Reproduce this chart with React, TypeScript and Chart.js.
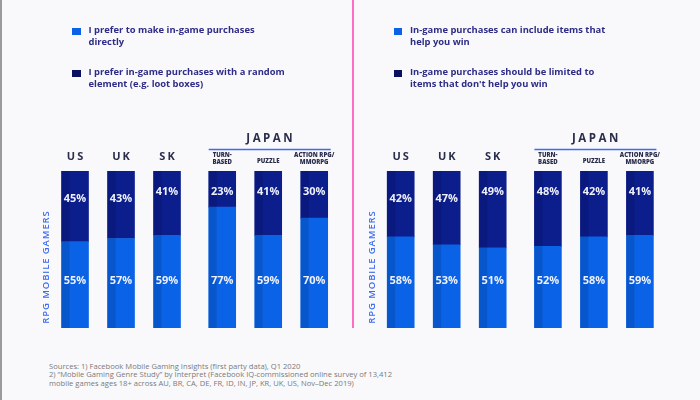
import React, { useEffect, useRef } from "react";
import { Chart, registerables } from "chart.js";

Chart.register(...registerables);

// ---- data ----
const countries = ["US", "UK", "SK"];
const japanGenres = [["TURN-", "BASED"], ["PUZZLE"], ["ACTION RPG/", "MMORPG"]];
const categories = ["US", "UK", "SK", "TURN-BASED", "PUZZLE", "ACTION RPG/MMORPG"];

const leftDirect = [55, 57, 59, 77, 59, 70];
const leftRandom = [45, 43, 41, 23, 41, 30];
const rightHelpWin = [58, 53, 51, 52, 58, 59];
const rightLimited = [42, 47, 49, 48, 42, 41];

const leftLegend = [
  ["I prefer to make in-game purchases", "directly"],
  ["I prefer in-game purchases with a random", "element (e.g. loot boxes)"],
];
const rightLegend = [
  ["In-game purchases can include items that", "help you win"],
  ["In-game purchases should be limited to", "items that don't help you win"],
];
const axisTitle = "RPG MOBILE GAMERS";
const groupTitle = "JAPAN";
const sources = [
  "Sources: 1) Facebook Mobile Gaming Insights (first party data), Q1 2020",
  "2) \u201CMobile Gaming Genre Study\u201D by Interpret (Facebook IQ-commissioned online survey of 13,412",
  "mobile games ages 18+ across AU, BR, CA, DE, FR, ID, IN, JP, KR, UK, US, Nov\u2013Dec 2019)",
];

// ---- layout / style ----
const SLOTS = [0, 1, 2, 3.2, 4.2, 5.2];
const DARK_LABEL_AT = [82, 82, 86.5, 86.5, 86.5, 86.5];
const LIGHT_LABEL_AT = 30;
const LIGHT = "#0a63e6";
const DARK = "#0c1d8c";
const NAVY_TEXT = "#2b2d4d";
const LEGEND_TEXT = "#2e2c86";
const ACCENT = "#3d6cf0";
const FONT = "'Open Sans', 'DejaVu Sans', sans-serif";
const CW = 350;
const CH = 340;

const panelPlugin = {
  id: "panelDecor",
  afterDatasetsDraw(chart: any) {
    const ctx = chart.ctx;
    const y = chart.scales.y;
    ctx.save();
    chart.data.datasets.forEach((ds: any, di: number) => {
      const meta = chart.getDatasetMeta(di);
      meta.data.forEach((bar: any) => {
        const w = bar.width;
        const top = Math.min(bar.y, bar.base);
        const h = Math.abs(bar.base - bar.y);
        ctx.fillStyle = "rgba(0,0,30,0.13)";
        ctx.fillRect(bar.x - w / 2, top, 8, h);
      });
    });
    ctx.fillStyle = "#eef1fb";
    ctx.font = `700 11px ${FONT}`;
    ctx.textAlign = "center";
    ctx.textBaseline = "middle";
    const lightMeta = chart.getDatasetMeta(0);
    const darkMeta = chart.getDatasetMeta(1);
    chart.data.datasets[0].data.forEach((d: any, i: number) => {
      const x = lightMeta.data[i].x;
      ctx.fillText(`${d.y}%`, x, y.getPixelForValue(LIGHT_LABEL_AT));
    });
    chart.data.datasets[1].data.forEach((d: any, i: number) => {
      const x = darkMeta.data[i].x;
      ctx.fillText(`${d.y}%`, x, y.getPixelForValue(DARK_LABEL_AT[i]));
    });
    ctx.restore();
  },
  afterDraw(chart: any) {
    const ctx = chart.ctx;
    const xs = chart.scales.x;
    const area = chart.chartArea;
    const half = 13.5;
    ctx.save();
    ctx.textAlign = "center";
    ctx.textBaseline = "middle";
    ctx.fillStyle = NAVY_TEXT;
    ctx.font = `700 11px ${FONT}`;
    (ctx as any).letterSpacing = "2px";
    countries.forEach((c, i) => {
      ctx.fillText(c, xs.getPixelForValue(SLOTS[i]) + 1, 157);
    });
    (ctx as any).letterSpacing = "0px";
    ctx.font = `800 6px ${FONT}`;
    japanGenres.forEach((lines, j) => {
      const x = xs.getPixelForValue(SLOTS[3 + j]);
      const start = lines.length === 1 ? 161 : 155.5;
      lines.forEach((l, k) => ctx.fillText(l, x, start + k * 7));
    });
    const x0 = xs.getPixelForValue(SLOTS[3]) - half;
    const x1 = xs.getPixelForValue(SLOTS[5]) + half + 3;
    ctx.font = `700 11.5px ${FONT}`;
    (ctx as any).letterSpacing = "2.5px";
    ctx.fillText(groupTitle, (x0 + x1) / 2 + 1, 139);
    ctx.strokeStyle = ACCENT;
    ctx.lineWidth = 1.5;
    ctx.beginPath();
    ctx.moveTo(x0, 149.5);
    ctx.lineTo(x1, 149.5);
    ctx.stroke();
    ctx.translate(area.left - 5.5, 267);
    ctx.rotate(-Math.PI / 2);
    ctx.fillStyle = ACCENT;
    ctx.font = `600 9.5px ${FONT}`;
    (ctx as any).letterSpacing = "0.9px";
    ctx.fillText(axisTitle, 0, 0);
    ctx.restore();
  },
};

function Panel(props: { light: number[]; dark: number[]; padLeft: number }) {
  const ref = useRef<HTMLCanvasElement | null>(null);
  useEffect(() => {
    if (!ref.current) return;
    const span = 6.2 * 46;
    const chart = new Chart(ref.current, {
      type: "bar",
      data: {
        labels: categories,
        datasets: [
          {
            label: "light",
            data: props.light.map((v, i) => ({ x: SLOTS[i], y: v })),
            backgroundColor: LIGHT,
            barThickness: 27,
          },
          {
            label: "dark",
            data: props.dark.map((v, i) => ({ x: SLOTS[i], y: v })),
            backgroundColor: DARK,
            barThickness: 27,
          },
        ],
      },
      options: {
        responsive: false,
        animation: false,
        devicePixelRatio: 1,
        layout: {
          padding: {
            left: props.padLeft,
            right: CW - props.padLeft - span,
            top: 171,
            bottom: CH - 328,
          },
        },
        plugins: { legend: { display: false }, tooltip: { enabled: false } },
        scales: {
          x: { type: "linear", min: -0.5, max: 5.7, offset: false, stacked: true, display: false },
          y: { min: 0, max: 100, stacked: true, display: false },
        },
      },
      plugins: [panelPlugin],
    } as any);
    return () => chart.destroy();
  }, []);
  return <canvas ref={ref} width={CW} height={CH} style={{ display: "block" }} />;
}

function Legend(props: { items: string[][]; left: number }) {
  const colors = [LIGHT, "#0a0f62"];
  return (
    <div style={{ position: "absolute", left: props.left, top: 0 }}>
      {props.items.map((lines, i) => (
        <div key={i} style={{ position: "absolute", left: 0, top: 24 + i * 42, width: 260 }}>
          <div
            style={{
              position: "absolute",
              left: 0,
              top: 3.5,
              width: 8.5,
              height: 7.5,
              background: colors[i],
            }}
          />
          <div
            style={{
              position: "absolute",
              left: 16.5,
              top: 0,
              font: `700 9.4px ${FONT}`,
              lineHeight: "12px",
              color: LEGEND_TEXT,
              whiteSpace: "nowrap",
            }}
          >
            {lines.map((l, k) => (
              <div key={k}>{l}</div>
            ))}
          </div>
        </div>
      ))}
    </div>
  );
}

export default function App() {
  return (
    <div
      style={{
        position: "fixed",
        left: 0,
        top: 0,
        width: 700,
        height: 400,
        background: "#f9f9fb",
        overflow: "hidden",
      }}
    >
      <div style={{ position: "absolute", left: 0, top: 0 }}>
        <Panel light={leftDirect} dark={leftRandom} padLeft={52} />
      </div>
      <div style={{ position: "absolute", left: 350, top: 0 }}>
        <Panel light={rightHelpWin} dark={rightLimited} padLeft={27.7} />
      </div>
      <Legend items={leftLegend} left={72} />
      <Legend items={rightLegend} left={393.5} />
      <div style={{ position: "absolute", left: 0, top: 0, width: 2, height: 400, background: "#9a9a9a" }} />
      <div style={{ position: "absolute", left: 351.5, top: 0, width: 2, height: 328, background: "#ff6ec4" }} />
      <div
        style={{
          position: "absolute",
          left: 49,
          top: 361.5,
          font: `400 7.6px ${FONT}`,
          lineHeight: "8.7px",
          color: "#7a7a7a",
          whiteSpace: "nowrap",
        }}
      >
        {sources.map((s, i) => (
          <div key={i}>{s}</div>
        ))}
      </div>
    </div>
  );
}
